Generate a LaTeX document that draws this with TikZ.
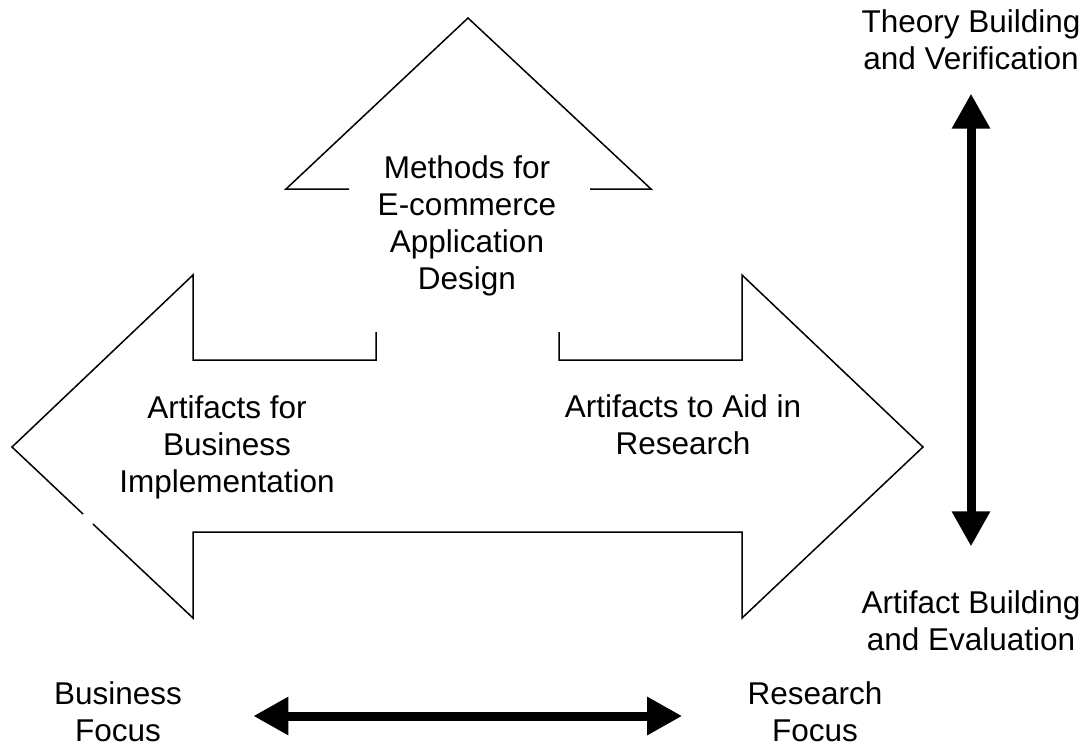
\documentclass[tikz,border=0pt]{standalone}
\usepackage{fontspec}
\setmainfont{Liberation Sans}
\usetikzlibrary{arrows.meta}
\tikzstyle{txt}=[inner sep=0pt, align=center, font=\fontsize{15.75}{18.5}\selectfont]
\tikzstyle{outline}=[line width=0.75pt, line join=miter]
\tikzstyle{dblarrow}=[line width=4.5pt, >={Triangle[length=17.5pt,width=18pt]}, <->]

\begin{document}
\begin{tikzpicture}[x=0.5pt, y=-0.5pt]
	\useasboundingbox (0,0) rectangle (1086,746);
	% three-headed block arrow
	\draw [outline] (349,189) -- (286,189) -- (468,18) -- (651,189) -- (590,189);
	\draw [outline] (376,332) -- (376,360) -- (193,360) -- (193,275) -- (12,447) -- (83,514);
	\draw [outline] (93,524) -- (193,618) -- (193,532) -- (742,532) -- (742,618)
		-- (923,447) -- (742,275) -- (742,360) -- (559,360) -- (559,332);

	\node [txt] (methods) at (467,226) {Methods for\\E-commerce\\Application\\Design};
	\node [txt] (bizart) at (227,447) {Artifacts for\\Business\\Implementation};
	\node [txt] (resart) at (683,425) {Artifacts to Aid in\\Research};

	\node [txt] (theory) at (971,39.5) {Theory Building\\and Verification};
	\node [txt] (artifact) at (971,620.5) {Artifact Building\\and Evaluation};
	\node [txt] (busfocus) at (118,712) {Business\\Focus};
	\node [txt] (resfocus) at (815,712) {Research\\Focus};

	\draw [dblarrow, shorten <=35.5pt, shorten >=32.5pt] ([yshift=-2pt]busfocus.east) -- ([yshift=-2pt]resfocus.west);
	\draw [dblarrow, shorten <=11.8pt, shorten >=21.8pt] (theory.south) -- (artifact.north);
\end{tikzpicture}
\end{document}
